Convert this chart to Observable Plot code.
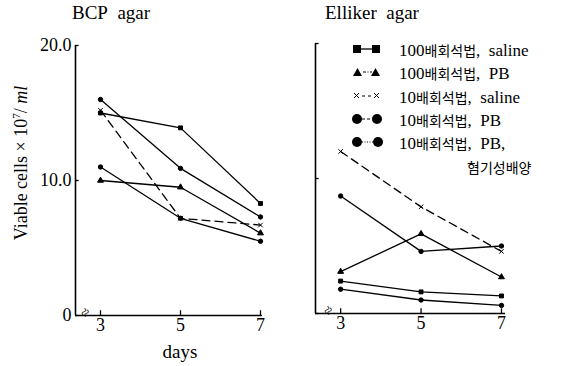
<!DOCTYPE html>
<html><head><meta charset="utf-8">
<script src="https://cdn.jsdelivr.net/npm/d3@7"></script>
<script src="https://cdn.jsdelivr.net/npm/@observablehq/plot@0.6"></script>
<style>
body{margin:0;background:#fff;font-family:"Liberation Serif","DejaVu Serif",serif;}
#wrap{position:relative;width:567px;height:366px;overflow:hidden;}
.abs{position:absolute;white-space:nowrap;color:#000;}
.ttl{font-size:19px;}
.leg{font-size:17px;line-height:20px;}
.leg svg{position:absolute;left:0;top:4px;}
.ko{font-family:"Noto Sans CJK KR","Noto Sans",sans-serif;font-size:14px;}
#plots svg{position:absolute;top:0;overflow:visible;background:transparent;font-family:"Liberation Serif",serif !important;}
#plots svg text, #plots svg g{font-family:"Liberation Serif",serif !important;}
</style></head>
<body><div id="wrap"><div id="plots"></div></div>
<script>
const days = [3, 5, 7];
const seriesNames = ["100배회석법, saline", "100배회석법, PB", "10배회석법, saline", "10배회석법, PB", "10배회석법, PB, 혐기성배양"];
const seriesSymbols = ["square", "triangle", "times", "circle", "circle"];
const seriesDashed = [false, false, true, false, false];
// BCP agar (viable cells x10^7/ml)
const bcp_100_saline = [15.0, 13.9, 8.3];
const bcp_100_pb = [10.0, 9.5, 6.1];
const bcp_10_saline = [15.2, 7.2, 6.7];
const bcp_10_pb = [16.0, 10.9, 7.3];
const bcp_10_pb_anaer = [11.0, 7.2, 5.5];
// Elliker agar
const ell_100_saline = [2.4, 1.6, 1.3];
const ell_100_pb = [3.1, 5.9, 2.7];
const ell_10_saline = [12.0, 7.9, 4.6];
const ell_10_pb = [8.7, 4.6, 5.0];
const ell_10_pb_anaer = [1.8, 1.0, 0.6];
const yTicks = [0, 10, 20];
const yTickLabels = ["0", "10.0", "20.0"];

function rows(arrs) {
  const out = [];
  arrs.forEach((a, i) => a.forEach((v, j) => out.push({s: i, name: seriesNames[i], day: days[j], v, dashed: seriesDashed[i], sym: seriesSymbols[i]})));
  return out;
}
const bcpData = rows([bcp_100_saline, bcp_100_pb, bcp_10_saline, bcp_10_pb, bcp_10_pb_anaer]);
const ellData = rows([ell_100_saline, ell_100_pb, ell_10_saline, ell_10_pb, ell_10_pb_anaer]);

const FF = "Liberation Serif, DejaVu Serif, serif";
function panel(data, opts) {
  const xd = opts.xDomain;
  const solid = data.filter(d => !d.dashed), dashed = data.filter(d => d.dashed);
  return Plot.plot({
    width: opts.width, height: 366,
    marginLeft: opts.ml, marginRight: opts.mr, marginTop: opts.mt, marginBottom: opts.mb,
    x: {domain: xd, axis: null}, y: {domain: [0, 20], axis: null},
    style: {background: "transparent", fontFamily: FF, fontSize: "18px", overflow: "visible"},
    symbol: {domain: ["square","triangle","times","circle"], range: ["square","triangle","times","circle"]},
    marks: [
      Plot.ruleX([xd[0]], {y1: 0, y2: 20, stroke: "#000", strokeWidth: 1.6}),
      Plot.ruleY([0], {x1: xd[0], x2: xd[1], stroke: "#000", strokeWidth: 1.6}),
      Plot.ruleY(yTicks, {x1: xd[0], x2: xd[0] + 0.09, stroke: "#000", strokeWidth: 1.3}),
      Plot.ruleX(days, {y1: 0, y2: 0.35, stroke: "#000", strokeWidth: 1.3}),
      opts.yLabels ? Plot.axisY({ticks: yTicks, tickFormat: d => yTickLabels[yTicks.indexOf(d)], tickSize: 0, tickPadding: 4, label: null, fontSize: 18, fontFamily: FF}) : null,
      Plot.axisX({ticks: days, tickFormat: d => String(d), tickSize: 0, tickPadding: 3, label: null, fontSize: 18, fontFamily: FF}),
      Plot.text(["≈"], {frameAnchor: "bottom-left", dx: opts.breakDx, dy: 3, fontSize: 15, rotate: -60, fill: "#000"}),
      Plot.line(solid, {x: "day", y: "v", z: "s", stroke: "#000", strokeWidth: 1.3}),
      Plot.line(dashed, {x: "day", y: "v", z: "s", stroke: "#000", strokeWidth: 1.3, strokeDasharray: "8,5"}),
      Plot.dot(data, {x: "day", y: "v", symbol: "sym", r: 2.2, fill: "#000", stroke: "#000", strokeWidth: 1})
    ]
  });
}

const left = panel(bcpData, {width: 290, ml: 75, mr: 28, mt: 45, mb: 51, xDomain: [2.375, 7.05], yLabels: true, breakDx: 12});
left.style.left = "0px";
const right = panel(ellData, {width: 277, ml: 25, mr: 62, mt: 43, mb: 53, xDomain: [2.375, 7.1], yLabels: false, breakDx: 15});
right.style.left = "290px";
const plots = document.getElementById("plots");
plots.append(left, right);

const wrap = document.getElementById("wrap");
function addText(html, css, cls) {
  const d = document.createElement("div");
  d.className = "abs " + (cls || "");
  d.innerHTML = html;
  Object.assign(d.style, css);
  wrap.appendChild(d);
  return d;
}
addText("BCP&nbsp; agar", {left: "72px", top: "2px"}, "ttl");
addText("Elliker&nbsp; agar", {left: "325px", top: "2px"}, "ttl");
addText("days", {left: "180px", top: "352px", transform: "translate(-50%,-50%)", fontSize: "19px"});
addText("Viable cells × 10<sup style='font-size:11px'>7</sup>/ <i>ml</i>", {left: "21px", top: "163px", transform: "translate(-50%,-50%) rotate(-90deg)", fontSize: "18px"});

const sw = [
  `<rect x="1" y="1" width="8" height="8"/><line x1="9" y1="5" x2="20" y2="5" stroke="#000" stroke-width="1.3"/><rect x="20" y="1" width="8" height="8"/>`,
  `<path d="M1,9 L5.5,1 L10,9Z"/><line x1="11" y1="5" x2="20" y2="5" stroke="#000" stroke-width="1" stroke-dasharray="3,1.5,1,1.5"/><path d="M19,9 L23.5,1 L28,9Z"/>`,
  `<path d="M2,2 L7,7 M7,2 L2,7" stroke="#000" stroke-width="1"/><line x1="10" y1="5" x2="20" y2="5" stroke="#000" stroke-width="1" stroke-dasharray="3,3"/><path d="M22,2 L27,7 M27,2 L22,7" stroke="#000" stroke-width="1"/>`,
  `<circle cx="5" cy="5" r="5"/><line x1="10" y1="5" x2="20" y2="5" stroke="#000" stroke-width="1" stroke-dasharray="3,2"/><circle cx="25" cy="5" r="5"/>`,
  `<circle cx="5" cy="5" r="5"/><line x1="10" y1="5" x2="21" y2="5" stroke="#000" stroke-width="1" stroke-dasharray="1,1.5"/><circle cx="26" cy="5" r="5"/>`
];
const legTexts = [
  ["100", "배회석법", ",&nbsp; saline"],
  ["100", "배회석법", ",&nbsp; PB"],
  ["10", "배회석법", ",&nbsp; saline"],
  ["10", "배회석법", ",&nbsp; PB"],
  ["10", "배회석법", ",&nbsp; PB,"]
];
const rowTop = [40, 63, 87, 110, 133];
legTexts.forEach((t, i) => {
  addText(`<svg width="32" height="12">${sw[i]}</svg><span style="position:absolute;left:47px;top:0">${t[0]}<span class="ko">${t[1]}</span>${t[2]}</span>`, {left: "352px", top: rowTop[i] + "px", width: "210px", height: "22px"}, "leg");
});
addText(`<span class="ko">혐기성배양</span>`, {left: "467px", top: "157px"}, "leg");
</script></body></html>
